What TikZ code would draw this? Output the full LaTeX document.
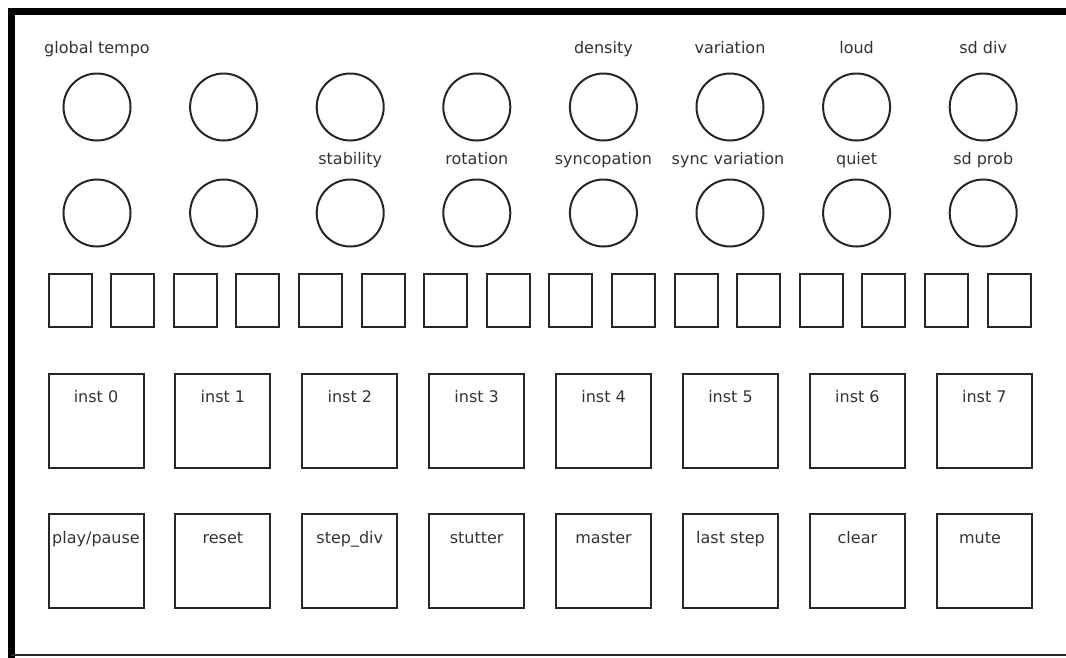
\documentclass[tikz,border=0pt]{standalone}
\usepackage{fontspec}
\setmainfont{DejaVu Sans}
\begin{document}
\begin{tikzpicture}[x=1pt,y=-1pt,
  knob/.style={draw=black!85, circle, line width=2pt, minimum size=67pt, inner sep=0pt},
  pad/.style={draw=black!85, line width=2pt, minimum width=43pt, minimum height=53pt, inner sep=0pt},
  key/.style={draw=black!85, line width=2pt, minimum width=95pt, minimum height=94pt, inner sep=0pt},
  lbl/.style={font=\fontsize{16}{18}\selectfont, text=black!80, inner sep=0pt, anchor=base},
  frame/.style={line width=7pt, black}]
\useasboundingbox (0,0) rectangle (1066,657);
% frame
\coordinate (fbl) at (11,660);
\coordinate (ftl) at (11,11.5);
\coordinate (ftr) at (1070,11.5);
\coordinate (fb1) at (11,655);
\coordinate (fb2) at (1070,655);
\draw[frame] (fbl) -- (ftl) -- (ftr);
\draw[line width=2pt, black!85] (fb1) -- (fb2);
% knobs
\foreach \i in {0,...,7} {
  \node[knob] (ka\i) at ({97+126.6*\i},107) {};
  \node[knob] (kb\i) at ({97+126.6*\i},213) {};
}
% knob labels
\node[lbl] (la0) at (97,53) {global tempo};
\node[lbl] (la4) at (603.4,53) {density};
\node[lbl] (la5) at (730,53) {variation};
\node[lbl] (la6) at (856.6,53) {loud};
\node[lbl] (la7) at (983.2,53) {sd div};
\node[lbl] (lb2) at (350.2,164) {stability};
\node[lbl] (lb3) at (476.8,164) {rotation};
\node[lbl] (lb4) at (603.4,164) {syncopation};
\node[lbl] (lb5) at (728,164) {sync variation};
\node[lbl] (lb6) at (856.6,164) {quiet};
\node[lbl] (lb7) at (983.2,164) {sd prob};
% pads
\foreach \i in {0,...,15} {
  \node[pad] (p\i) at ({70+62.6*\i},300) {};
}
% keys
\foreach \i in {0,...,7} {
  \node[key] (ia\i) at ({96+126.9*\i},420.5) {};
  \node[key] (ib\i) at ({96+126.9*\i},560.5) {};
  \node[lbl] (ta\i) at ({96+126.9*\i},402) {inst \i};
}
\node[lbl] (tb0) at (96,543) {play/pause};
\node[lbl] (tb1) at (222.9,543) {reset};
\node[lbl] (tb2) at (349.8,543) {step\_div};
\node[lbl] (tb3) at (476.7,543) {stutter};
\node[lbl] (tb4) at (603.6,543) {master};
\node[lbl] (tb5) at (730.5,543) {last step};
\node[lbl] (tb6) at (857.4,543) {clear};
\node[lbl] (tb7) at (980,543) {mute};
\end{tikzpicture}
\end{document}
